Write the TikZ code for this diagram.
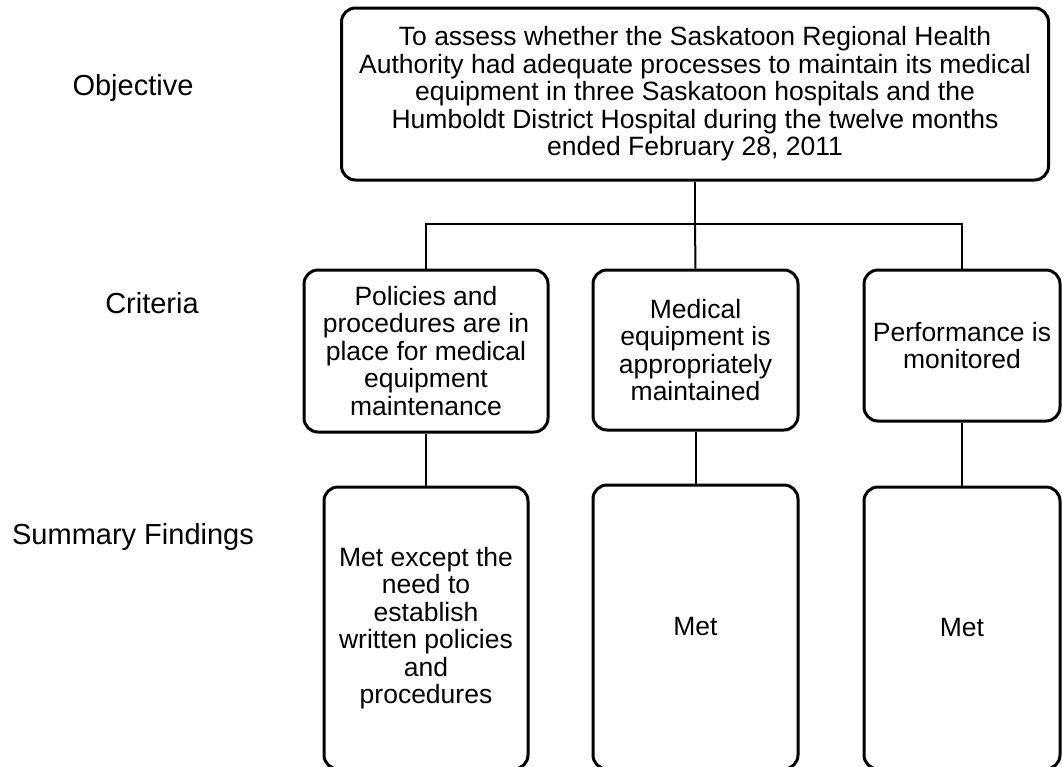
\documentclass[tikz,border=0pt]{standalone}
\usepackage{fontspec}
\setmainfont{Liberation Sans}

\begin{document}
\begin{tikzpicture}[x=0.5pt, y=-0.5pt,
    every node/.style={font=\fontsize{13.25}{13.75}\selectfont},
    rowlabel/.style={font=\fontsize{14.5}{16}\selectfont},
    box/.style={draw, line width=1.5pt, rounded corners=7pt, align=center, inner sep=0pt},
    link/.style={line width=1pt}]

    % Fix the page to the size of the original picture
    \useasboundingbox (0,0) rectangle (1062,767);

    % Row labels on the left
    \node[rowlabel] (objlabel) at (133,88) {Objective};
    \node[rowlabel] (critlabel) at (152,303) {Criteria};
    \node[rowlabel] (sumlabel) at (133,537) {Summary Findings};

    % Objective box at the top
    \node[box, minimum width=353.5pt, minimum height=86pt] (obj) at (695,94)
        {To assess whether the Saskatoon Regional Health\\
         Authority had adequate processes to maintain its medical\\
         equipment in three Saskatoon hospitals and the\\
         Humboldt District Hospital during the twelve months\\
         ended February 28, 2011};

    % Criteria boxes
    \node[box, minimum width=122pt, minimum height=81pt] (crit1) at (426,351)
        {Policies and\\ procedures are in\\ place for medical\\ equipment\\ maintenance};
    \node[box, minimum width=102.5pt, minimum height=80pt] (crit2) at (695.5,350)
        {Medical\\ equipment is\\ appropriately\\ maintained};
    \node[box, minimum width=98pt, minimum height=75.5pt] (crit3) at (962,345.5)
        {Performance is\\ monitored};

    % Summary findings boxes (they run past the bottom edge)
    \node[box, minimum width=102pt, minimum height=141pt] (find1) at (426,628)
        {Met except the\\ need to\\ establish\\ written policies\\ and\\ procedures};
    \node[box, minimum width=102.5pt, minimum height=142pt] (find2) at (695.5,627) {Met};
    \node[box, minimum width=98pt, minimum height=141pt] (find3) at (962,628) {Met};

    % Connectors between the rows
    \coordinate (split) at (695,224);
    \draw[link] (obj.south) -- (split);
    \draw[link] (crit1.north) |- (split) -| (crit3.north);
    \draw[link] (split) -- (crit2.north);
    \draw[link] (crit1.south) -- (find1.north);
    \draw[link] (crit2.south) -- (find2.north);
    \draw[link] (crit3.south) -- (find3.north);

\end{tikzpicture}
\end{document}
